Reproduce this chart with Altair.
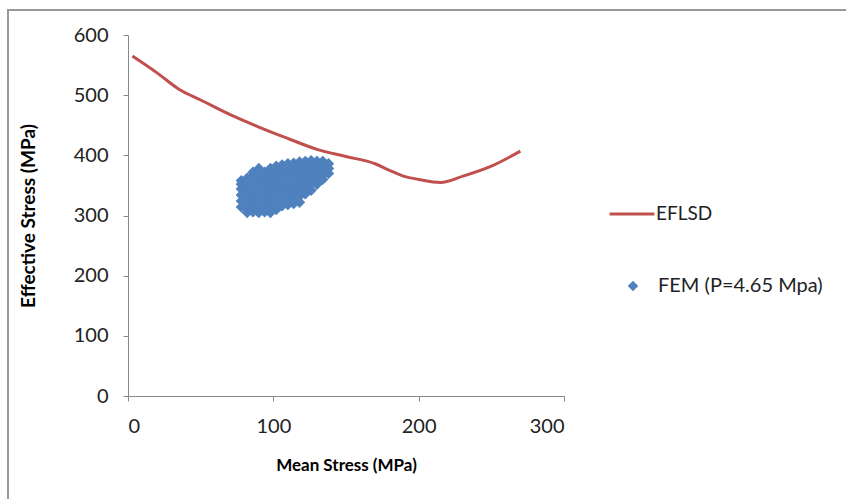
import altair as alt
import pandas as pd

# EFLSD curve
eflsd_x = [3, 20, 35, 50, 70, 90, 110, 130, 150, 170, 180, 190, 200, 215, 230, 250, 270]
eflsd_y = [565, 537, 510, 492, 468, 447, 428, 410, 398, 386, 375, 365, 360, 355, 365, 382, 407]

# FEM cloud (column by column)
fem_cols = {
    78: [314, 324, 334, 344, 352, 358],
    82: [305, 314, 324, 334, 344, 354, 362],
    86: [306, 316, 326, 336, 346, 356, 366, 372],
    90: [305, 314, 324, 334, 344, 354, 364, 374, 378],
    94: [306, 316, 326, 336, 346, 356, 366, 372],
    98: [305, 314, 324, 334, 344, 354, 364, 372, 378],
    102: [310, 320, 330, 340, 350, 360, 370, 378, 382],
    106: [316, 326, 336, 346, 356, 366, 376, 384],
    110: [318, 328, 338, 348, 358, 368, 378, 386],
    114: [320, 330, 340, 350, 360, 370, 380, 387],
    118: [322, 332, 342, 352, 362, 372, 382, 389],
    122: [336, 346, 356, 366, 376, 384, 390],
    126: [342, 352, 362, 372, 380, 388, 391],
    130: [352, 360, 368, 376, 384, 390],
    134: [360, 368, 376, 384, 390],
    138: [370, 378, 386],
}
fem_x = [x for x, ys in fem_cols.items() for _ in ys]
fem_y = [y for ys in fem_cols.values() for y in ys]

x_ticks = [0, 100, 200, 300]
y_ticks = [0, 100, 200, 300, 400, 500, 600]

line_df = pd.DataFrame({"x": eflsd_x, "y": eflsd_y, "s": "EFLSD"})
pt_df = pd.DataFrame({"x": fem_x, "y": fem_y, "s": "FEM (P=4.65 Mpa)"})

FONT = "Lato"
RED = "#C0504D"
BLUE = "#4F81BD"

xs = alt.Scale(domain=[0, 300], nice=False)
ys = alt.Scale(domain=[0, 600], nice=False)

xaxis = alt.Axis(values=x_ticks, title="Mean Stress (MPa)", grid=False,
                 domainColor="#888888", tickColor="#888888", tickSize=5,
                 labelFontSize=20, labelColor="#222222", labelFont=FONT, labelPadding=15,
                 titleFont=FONT, titleFontSize=17, titleFontWeight="bold", titleColor="#000000",
                 titlePadding=21)
yaxis = alt.Axis(values=y_ticks, title="Effective Stress (MPa)", grid=False,
                 domainColor="#888888", tickColor="#888888", tickSize=5,
                 labelFontSize=20, labelColor="#222222", labelFont=FONT, labelPadding=15,
                 titleFont=FONT, titleFontSize=19, titleFontWeight="bold", titleColor="#000000",
                 titlePadding=35)

border = alt.Chart(pd.DataFrame({"a": [0]})).mark_rect(
    fill=None, stroke="#999999", strokeWidth=2
).encode(x=alt.value(-120), x2=alt.value(740), y=alt.value(-25), y2=alt.value(500))

line = alt.Chart(line_df).mark_line(strokeWidth=3, color=RED, interpolate="monotone").encode(
    x=alt.X("x:Q", scale=xs, axis=xaxis),
    y=alt.Y("y:Q", scale=ys, axis=yaxis),
    color=alt.Color("s:N", scale=alt.Scale(domain=["EFLSD"], range=[RED]),
                    legend=alt.Legend(title=None, orient="none", legendX=480, legendY=155,
                                      symbolType="stroke", symbolSize=2025, symbolStrokeWidth=3,
                                      labelFont=FONT, labelFontSize=19, labelColor="#222222",
                                      labelOffset=0, padding=0, labelLimit=400)),
)

pts = alt.Chart(pt_df).mark_point(shape="diamond", filled=True, size=130, opacity=1, color=BLUE).encode(
    x=alt.X("x:Q", scale=xs),
    y=alt.Y("y:Q", scale=ys),
    fill=alt.Fill("s:N", scale=alt.Scale(domain=["FEM (P=4.65 Mpa)"], range=[BLUE]),
                  legend=alt.Legend(title=None, orient="none", legendX=495, legendY=241,
                                    symbolType="diamond", symbolSize=110, symbolStrokeWidth=0,
                                    symbolOpacity=1,
                                    labelFont=FONT, labelFontSize=20, labelColor="#222222",
                                    labelOffset=15, padding=0, labelLimit=400)),
)

chart = alt.layer(border, line, pts).resolve_scale(color="independent", fill="independent").properties(
    width=436, height=361,
    autosize=alt.AutoSizeParams(type="none"),
    padding={"left": 128, "top": 35, "right": 282, "bottom": 103},
    background="white",
).configure_view(stroke=None)

chart.save("out.html", embed_options={"renderer": "svg", "actions": False})
